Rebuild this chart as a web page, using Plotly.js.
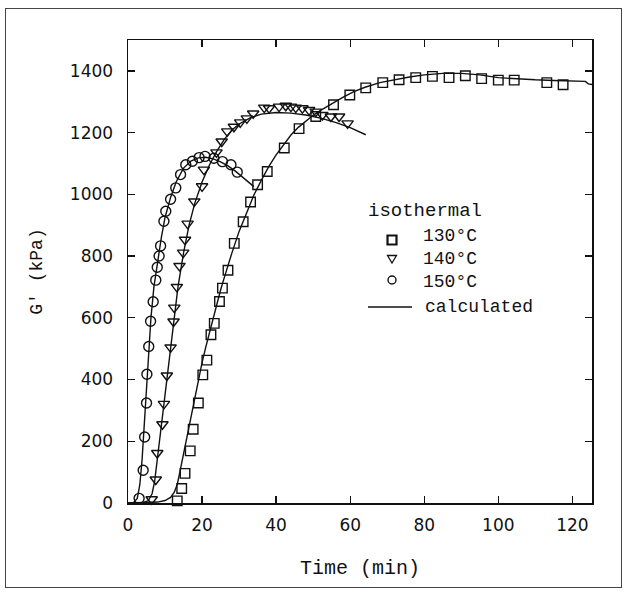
<!DOCTYPE html>
<html>
<head>
<meta charset="utf-8">
<script src="https://cdn.plot.ly/plotly-3.0.1.min.js"></script>
<style>
  html, body { margin: 0; padding: 0; background: #fff; }
  #wrap { position: relative; width: 627px; height: 592px; }
  #chart { width: 627px; height: 592px; }
  #frame { position: absolute; left: 5px; top: 8px; width: 615px; height: 578px;
           border: 1px solid #444; pointer-events: none; }
</style>
</head>
<body>
<div id="wrap">
  <div id="chart"></div>
  <div id="frame"></div>
</div>
<script>
// Measured data: 130 °C (squares)
const t130 = [13.3, 14.5, 15.4, 16.8, 17.6, 19.0, 20.2, 21.3, 22.4, 23.3, 24.7, 25.5, 27.0, 28.7, 31.1, 33.1, 35.0, 37.6, 42.2, 46.2, 50.7, 55.5, 59.9, 64.2, 68.8, 73.2, 77.7, 82.2, 86.7, 91.1, 95.5, 100.0, 104.3, 113.1, 117.5];
const g130 = [7, 47, 96, 169, 239, 324, 415, 463, 545, 582, 653, 696, 754, 841, 911, 975, 1031, 1074, 1150, 1213, 1252, 1290, 1322, 1345, 1362, 1371, 1378, 1382, 1378, 1384, 1375, 1370, 1370, 1362, 1355];

// Measured data: 140 °C (triangles)
const t140 = [6.4, 7.5, 7.9, 9.3, 9.7, 10.5, 11.5, 12.3, 12.5, 13.2, 13.9, 14.9, 15.4, 16.1, 17.9, 20.0, 20.5, 23.9, 25.3, 26.8, 28.6, 30.3, 32.1, 33.8, 36.8, 38.1, 40.8, 42.6, 44.0, 45.3, 47.1, 48.9, 50.7, 52.5, 54.8, 57.0, 59.3];
const g140 = [12, 76, 162, 255, 321, 413, 504, 588, 633, 700, 768, 811, 853, 905, 977, 1026, 1080, 1136, 1171, 1204, 1219, 1233, 1246, 1262, 1281, 1279, 1284, 1287, 1284, 1281, 1279, 1273, 1268, 1257, 1252, 1252, 1230];

// Measured data: 150 °C (circles)
const t150 = [3.0, 4.1, 4.5, 5.0, 5.1, 5.6, 6.1, 6.8, 7.5, 7.9, 8.4, 8.8, 9.7, 10.2, 11.5, 12.9, 14.2, 15.6, 17.4, 19.2, 20.8, 23.2, 25.5, 27.8, 29.5];
const g150 = [15, 106, 214, 324, 417, 507, 589, 652, 722, 764, 800, 833, 913, 945, 984, 1021, 1064, 1096, 1107, 1119, 1123, 1117, 1106, 1096, 1072];

// Calculated curves
const c130t = [0, 6, 8, 10, 11.5, 12.5, 13.3, 14, 15, 16, 17, 18, 19, 20, 21, 22, 23, 24, 25, 26, 27, 28, 30, 32, 34, 36, 38, 40, 42, 44, 46, 48, 50, 52, 55, 58, 61, 64, 68, 72, 76, 80, 85, 90, 95, 100, 105, 110, 115, 120, 123.5, 124.3, 125.3];
const c130g = [0, 1, 3, 8, 18, 35, 60, 100, 160, 220, 283, 343, 400, 455, 505, 553, 600, 645, 690, 730, 770, 808, 880, 942, 998, 1045, 1090, 1128, 1162, 1192, 1217, 1238, 1256, 1272, 1294, 1314, 1333, 1347, 1362, 1372, 1380, 1387, 1392, 1392, 1387, 1378, 1374, 1371, 1369, 1368, 1366, 1358, 1356];

const c140t = [0, 4, 5.5, 6.5, 7.2, 7.8, 8.5, 9.3, 10.2, 11.2, 12.3, 13.5, 15, 16.5, 18, 20, 22, 24, 26, 28, 30, 33, 36, 40, 44, 48, 52, 56, 60, 64.2];
const c140g = [0, 1, 8, 30, 70, 130, 200, 290, 390, 490, 590, 700, 810, 900, 970, 1040, 1095, 1140, 1178, 1208, 1228, 1248, 1260, 1265, 1263, 1257, 1247, 1233, 1216, 1193];

const c150t = [0, 1.5, 2.5, 3.2, 3.8, 4.3, 4.9, 5.5, 6.2, 7, 8, 9, 10, 11.5, 13, 15, 17, 19, 21, 23, 25, 27, 29, 31, 33, 34];
const c150g = [0, 2, 15, 60, 140, 230, 350, 480, 600, 700, 785, 860, 925, 990, 1040, 1085, 1108, 1118, 1120, 1115, 1105, 1092, 1075, 1055, 1035, 1025];

const xTicks = [0, 20, 40, 60, 80, 100, 120];
const yTicks = [0, 200, 400, 600, 800, 1000, 1200, 1400];

const legendTitle = 'isothermal';
const legendLabels = ['130°C', '140°C', '150°C', 'calculated'];

const mono = 'Liberation Mono, DejaVu Sans Mono, monospace';
const sans = 'DejaVu Sans, Arial, sans-serif';
const ink = '#111';

function markerTrace(x, y, name, symbol, size) {
  return {
    x: x, y: y, name: name, type: 'scatter', mode: 'markers', cliponaxis: false,
    showlegend: false,
    marker: { symbol: symbol, size: size, color: ink, line: { color: ink, width: 1.4 } }
  };
}
function lineTrace(x, y) {
  return {
    x: x, y: y, name: 'calculated', type: 'scatter', mode: 'lines', showlegend: false,
    line: { color: ink, width: 1.4 }
  };
}

const data = [
  lineTrace(c130t, c130g),
  lineTrace(c140t, c140g),
  lineTrace(c150t, c150g),
  markerTrace(t130, g130, '130°C', 'square-open', 9.5),
  markerTrace(t140, g140, '140°C', 'triangle-down-open', 10),
  markerTrace(t150, g150, '150°C', 'circle-open', 10)
];

// legend drawn in paper coordinates (plot area 128..592 x 40..503 px)
const L = 128, W = 464, B = 503, H = 463;
const px = v => (v - L) / W;
const py = v => (B - v) / H;

const annotations = [
  { text: legendTitle, x: px(366), y: py(211), size: 19 },
  { text: legendLabels[0], x: px(421), y: py(236), size: 18 },
  { text: legendLabels[1], x: px(421), y: py(259), size: 18 },
  { text: legendLabels[2], x: px(421), y: py(282), size: 18 },
  { text: legendLabels[3], x: px(423), y: py(307), size: 18 }
].map(a => ({ text: a.text, x: a.x, y: a.y, xanchor: 'left', yanchor: 'middle',
  xref: 'paper', yref: 'paper', showarrow: false,
  font: { family: mono, size: a.size, color: ink } }));

const shapes = [
  { type: 'rect', x0: px(387.5), x1: px(396.5), y0: py(235.5), y1: py(244.5), line: { color: ink, width: 2.2 } },
  { type: 'path', path: `M ${px(387.5)} ${py(255.5)} L ${px(396.5)} ${py(255.5)} L ${px(392)} ${py(263)} Z`, line: { color: ink, width: 1.3 } },
  { type: 'circle', x0: px(388), x1: px(396), y0: py(276), y1: py(284), line: { color: ink, width: 1.4 } },
  { type: 'line', x0: px(368), x1: px(412), y0: py(307), y1: py(307), line: { color: ink, width: 1.4 } }
].map(s => Object.assign(s, { xref: 'paper', yref: 'paper' }));

const axisCommon = {
  showgrid: false, zeroline: false, showline: true, linecolor: ink, linewidth: 1.5,
  mirror: 'allticks', ticks: 'inside', ticklen: 7, tickwidth: 1.3, tickcolor: ink,
  tickfont: { family: sans, size: 17, color: ink }
};

const layout = {
  width: 627, height: 592,
  margin: { l: 128, r: 35, t: 40, b: 89 },
  paper_bgcolor: '#fff', plot_bgcolor: '#fff',
  showlegend: false,
  annotations: annotations,
  shapes: shapes,
  xaxis: Object.assign({}, axisCommon, {
    range: [0, 125.3], tickvals: xTicks, ticktext: xTicks.map(String),
    ticklabelstandoff: 6,
    title: { text: 'Time (min)', font: { family: mono, size: 20, color: ink }, standoff: 26 }
  }),
  yaxis: Object.assign({}, axisCommon, {
    range: [0, 1500], tickvals: yTicks, ticktext: yTicks.map(String),
    ticklabelstandoff: 10,
    title: { text: "G' (kPa)", font: { family: mono, size: 18, color: ink }, standoff: 22 }
  })
};

Plotly.newPlot('chart', data, layout, { displayModeBar: false, staticPlot: true });
</script>
</body>
</html>
